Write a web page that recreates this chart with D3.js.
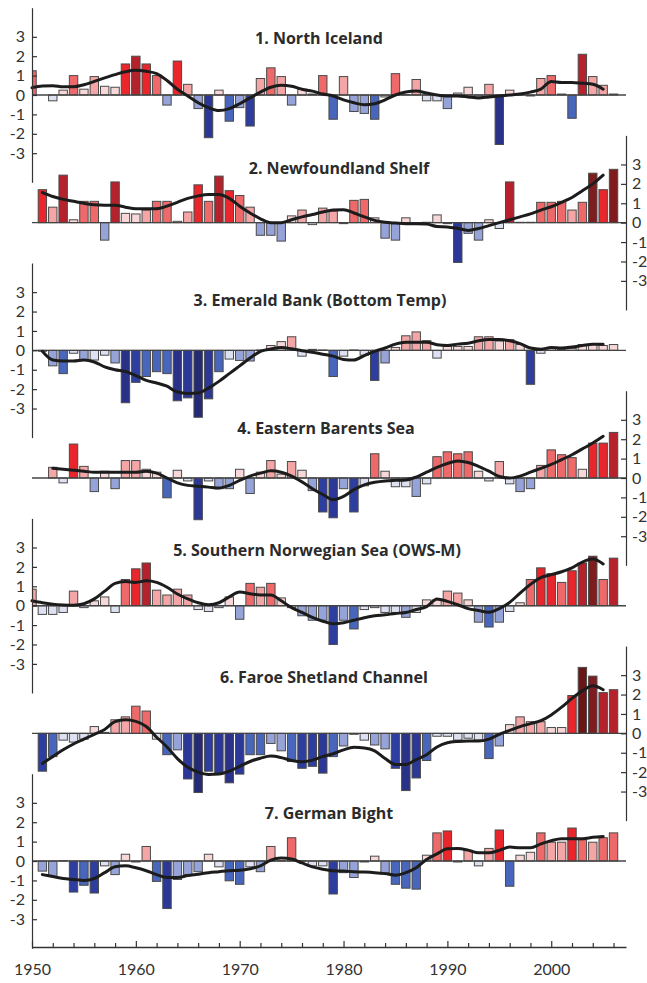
<!DOCTYPE html>
<html><head><meta charset="utf-8">
<script src="https://cdn.jsdelivr.net/npm/d3@7"></script>
<style>body{margin:0;background:#fff}svg{display:block}</style>
</head><body>
<svg id="c" width="647" height="983"></svg>
<script>
// ---------- DATA ----------
const years = d3.range(1950, 2007); // 1950..2006
const titles = ["1. North Iceland", "2. Newfoundland Shelf", "3. Emerald Bank (Bottom Temp)",
  "4. Eastern Barents Sea", "5. Southern Norwegian Sea (OWS-M)", "6. Faroe Shetland Channel", "7. German Bight"];
const yTicks = [-3, -2, -1, 0, 1, 2, 3];
const xTicks = [1950,1952,1954,1956,1958,1960,1962,1964,1966,1968,1970,1972,1974,1976,1978,1980,1982,1984,1986,1988,1990,1992,1994,1996,1998,2000,2002,2004,2006];
const xLabels = [1950, 1960, 1970, 1980, 1990, 2000];

const northIceland = [1.25,null,-0.3,0.25,1.0,0.3,0.95,0.45,0.4,1.6, 2.0,1.6,1.0,-0.52,1.75,0.55,-0.7,-2.2,0.25,-1.35, -0.65,-1.6,0.85,1.4,0.95,-0.52,0.3,0.05,1.0,-1.25, 0.95,-0.85,-0.95,-1.25,-0.1,1.1,0.02,0.8,-0.3,-0.3, -0.7,0.1,0.4,-0.1,0.55,-2.55,0.25,0.05,-0.05,0.85, 1.0,0.05,-1.2,2.1,0.95,0.5,0.05];
const northIcelandTrend = [0.38,0.47,0.48,0.42,0.42,0.53,0.7,0.88,1.05,1.2, 1.27,1.22,1.1,0.75,0.3,-0.05,-0.4,-0.65,-0.8,-0.7, -0.45,-0.15,0.15,0.4,0.5,0.45,0.3,0.2,0.05,-0.05, -0.25,-0.4,-0.5,-0.45,-0.25,0.0,0.15,0.2,0.1,0.0, -0.05,-0.05,-0.1,-0.15,-0.1,-0.05,0.0,0.05,0.15,0.3, 0.7,0.65,0.65,0.6,0.55,0.3,null];

const newfoundland = [null,1.7,0.8,2.45,0.15,1.1,1.1,-0.9,2.1,0.48, 0.45,0.65,1.1,1.1,0.07,0.55,1.95,1.1,2.4,1.65, 1.4,0.8,-0.65,-0.65,-0.95,0.35,0.65,-0.1,0.75,0.6, -0.05,1.15,1.2,0.25,-0.8,-0.9,0.25,-0.05,0.02,0.4, -0.05,-2.05,-0.55,-0.9,0.15,-0.3,2.1,0.02,0.02,1.05, 1.05,1.1,0.65,1.05,2.55,1.7,2.75];
const newfoundlandTrend = [null,1.55,1.35,1.2,1.1,1.0,0.92,0.9,0.9,0.8, 0.72,0.72,0.72,0.85,1.05,1.25,1.38,1.45,1.45,1.25, 0.85,0.5,0.2,0.0,0.0,0.15,0.3,0.42,0.55,0.65, 0.67,0.5,0.3,0.12,0.02,-0.02,-0.05,-0.05,-0.07,-0.2, -0.22,-0.3,-0.4,-0.3,-0.15,0.0,0.15,0.3,0.45,0.65, 0.82,1.05,1.3,1.65,2.0,2.45,null];

const emeraldBank = [null,-0.05,-0.8,-1.2,-0.15,-0.52,-0.5,-0.25,-0.65,-2.7, -1.65,-1.35,-1.1,-1.2,-2.6,-2.45,-3.45,-2.5,-1.1,-0.45, -0.52,-0.55,0.02,0.25,0.45,0.7,-0.3,0.05,0.02,-1.35, -0.3,0.02,-0.25,-1.55,-0.65,0.15,0.75,0.95,0.5,-0.4, 0.2,0.2,0.2,0.7,0.7,0.48,0.55,0.3,-1.75,-0.15, 0.15,0.05,0.1,0.3,0.3,0.25,0.3];
const emeraldBankTrend = [null,-0.05,-0.5,-0.55,-0.55,-0.5,-0.6,-0.85,-1.0,-1.1, -1.3,-1.55,-1.68,-1.85,-2.15,-2.22,-2.2,-1.95,-1.6,-1.2, -0.8,-0.4,-0.05,0.07,0.15,0.08,-0.02,-0.1,-0.2,-0.3, -0.47,-0.5,-0.27,-0.05,0.12,0.32,0.42,0.42,0.42,0.29, 0.25,0.32,0.37,0.49,0.56,0.56,0.49,0.35,0.12,0.06, 0.14,0.12,0.17,0.25,0.32,0.32,null];

const barentsSea = [null,null,0.55,-0.25,1.75,0.6,-0.7,0.35,-0.55,0.9, 0.9,0.45,0.3,-1.02,0.4,-0.15,-2.15,-0.15,-0.55,-0.55, 0.45,-0.8,0.3,0.9,0.2,0.85,0.4,-0.65,-1.75,-2.05, -0.55,-1.75,-0.4,1.25,0.35,-0.45,-0.45,-0.95,-0.3,1.1, 1.35,1.25,1.35,0.35,-0.15,0.85,-0.3,-0.7,-0.55,0.65, 1.45,1.2,1.05,0.45,1.8,1.8,2.35];
const barentsSeaTrend = [null,null,0.5,0.45,0.4,0.35,0.3,0.3,0.3,0.3, 0.3,0.35,0.25,0.0,-0.25,-0.38,-0.42,-0.47,-0.52,-0.38, -0.12,0.1,0.25,0.37,0.3,0.1,-0.2,-0.55,-0.85,-1.12, -0.95,-0.6,-0.35,-0.22,-0.15,-0.12,-0.1,0.05,0.3,0.55, 0.75,0.88,0.8,0.6,0.35,0.08,0.0,0.1,0.3,0.5, 0.7,0.95,1.2,1.5,1.8,2.15,null];

const norwegianSea = [0.85,-0.45,-0.45,-0.35,0.75,-0.1,0.25,0.45,-0.35,1.35, 1.9,2.2,0.8,0.55,0.85,0.55,-0.2,-0.3,-0.1,0.45, -0.7,1.15,0.95,1.15,0.4,-0.1,-0.52,-0.75,-0.75,-2.0, -0.75,-1.2,-0.2,-0.1,-0.35,-0.35,-0.6,-0.35,0.3,0.3, 0.75,0.65,0.3,-0.85,-1.1,-0.85,-0.3,0.15,1.35,1.95, 1.65,1.2,1.8,2.2,2.55,1.35,2.45];
const norwegianSeaTrend = [0.25,0.15,0.08,0.04,0.02,0.1,0.35,0.75,1.15,1.25, 1.2,1.28,1.2,0.95,0.6,0.35,0.15,0.05,0.15,0.45, 0.7,0.62,0.55,0.55,0.25,-0.1,-0.35,-0.6,-0.8,-0.93, -0.88,-0.75,-0.62,-0.52,-0.47,-0.4,-0.35,-0.2,-0.05,0.35, 0.22,0.05,-0.15,-0.25,-0.34,-0.15,0.17,0.65,1.1,1.45, 1.6,1.75,1.95,2.25,2.4,2.15,null];

const faroeShetland = [null,-1.95,-1.2,-0.35,-0.45,-0.3,0.35,0.05,0.7,0.85, 1.4,1.15,-0.3,-1.1,-0.85,-2.35,-3.05,-1.95,-2.05,-2.55, -2.1,-1.1,-1.1,-0.52,-0.9,-1.45,-1.8,-1.7,-2.05,-1.2, -0.65,-0.05,-0.35,-0.6,-0.8,-1.8,-2.95,-2.3,-1.4,-0.15, -0.15,-0.35,-0.25,-0.35,-1.3,-0.65,0.45,0.85,0.6,0.6, 0.3,0.3,1.95,3.4,2.95,2.1,2.25];
const faroeShetlandTrend = [null,-1.55,-1.2,-0.85,-0.55,-0.3,-0.05,0.2,0.6,0.7, 0.62,0.35,-0.2,-0.7,-1.3,-1.75,-2.0,-2.12,-2.1,-1.95, -1.7,-1.45,-1.28,-1.17,-1.25,-1.4,-1.47,-1.38,-1.2,-1.05, -0.85,-0.72,-0.75,-0.9,-1.3,-1.6,-1.6,-1.35,-1.1,-0.7, -0.48,-0.42,-0.4,-0.4,-0.3,-0.05,0.15,0.35,0.5,0.65, 0.95,1.35,1.8,2.2,2.45,2.25,null];

const germanBight = [null,-0.52,-0.8,0.02,-1.6,-1.25,-1.65,-0.25,-0.7,0.35, -0.05,0.75,-1.05,-2.45,-0.95,-0.7,-0.55,0.35,-0.3,-1.02, -1.2,-0.3,-0.55,0.75,0.02,1.2,0.02,-0.25,-0.25,-1.7, -0.6,-0.85,-0.05,0.25,-0.6,-1.2,-1.4,-1.45,0.3,1.45, 1.55,-0.05,0.55,-0.25,0.65,1.6,-1.3,0.3,0.45,1.45, 0.97,0.97,1.7,1.1,0.97,1.2,1.45];
const germanBightTrend = [null,-0.7,-0.8,-0.9,-0.95,-1.0,-0.9,-0.6,-0.3,-0.25, -0.35,-0.5,-0.7,-0.85,-0.85,-0.75,-0.68,-0.6,-0.55,-0.5, -0.48,-0.4,-0.25,0.05,0.15,0.1,-0.1,-0.3,-0.42,-0.5, -0.52,-0.55,-0.57,-0.6,-0.65,-0.73,-0.6,-0.35,0.08,0.37, 0.63,0.65,0.56,0.42,0.42,0.55,0.72,0.68,0.68,0.88, 1.05,1.15,1.15,1.15,1.22,1.27,null];

const barSeries = [northIceland, newfoundland, emeraldBank, barentsSea, norwegianSea, faroeShetland, germanBight];
const trendSeries = [northIcelandTrend, newfoundlandTrend, emeraldBankTrend, barentsSeaTrend, norwegianSeaTrend, faroeShetlandTrend, germanBightTrend];

// ---------- LAYOUT / STYLE ----------
const X0 = 32, X1 = 626, firstZero = 95, panelStep = 127.67, unit = 19.4, axisBottomY = 947;
const titleLayout = [[319, 2.95], [339, 2.8], [320, 2.6], [326, 2.6], [317, 2.85], [324, 2.9], [329, 2.45]];
const colorScale = d3.scaleThreshold()
  .domain([-3, -2.5, -2, -1.5, -1, -0.5, 0, 0.5, 1, 1.5, 2, 2.5, 3])
  .range(["#242a74", "#2a3288", "#2b3898", "#2e3ea0", "#4867bc", "#95a3d8", "#dde1f2",
          "#f7d7d7", "#f4a5a5", "#ee6a6a", "#e8262b", "#b6222b", "#7f1c20", "#6b1616"]);
const TITLE_FONT = "'Open Sans', Lato, sans-serif";
const TICK_FONT = "Lato, 'Open Sans', sans-serif";

const svg = d3.select("#c");
const x = d3.scaleLinear().domain([1950, 2007.2]).range([X0, X1]);
const bw = 8.4;

svg.append("defs").append("clipPath").attr("id", "clip")
  .append("rect").attr("x", X0).attr("y", 0).attr("width", X1 - X0).attr("height", 983);

barSeries.forEach((vals, i) => {
  const zero = firstZero + i * panelStep;
  const y = d3.scaleLinear().domain([-4.5, 4.5]).range([zero + 4.5 * unit, zero - 4.5 * unit]);
  const g = svg.append("g");
  const data = years.map((yr, k) => ({ yr, v: vals[k], t: trendSeries[i][k] }));

  // title
  g.append("text")
    .attr("x", titleLayout[i][0]).attr("y", y(titleLayout[i][1]))
    .attr("text-anchor", "middle").attr("dominant-baseline", "central")
    .style("font-family", TITLE_FONT).style("font-weight", 700).style("font-size", "16px")
    .style("fill", "#2b2b2b").text(titles[i]);

  // bars
  g.append("g").attr("clip-path", "url(#clip)")
    .selectAll("rect").data(data.filter(d => d.v !== null)).join("rect")
    .attr("x", d => x(d.yr) - bw / 2).attr("width", bw)
    .attr("y", d => Math.min(y(d.v), y(0)))
    .attr("height", d => Math.abs(y(d.v) - y(0)))
    .attr("fill", d => colorScale(d.v))
    .attr("stroke", "#4a4a4a").attr("stroke-width", 1);

  // zero line
  g.append("line").attr("x1", X0).attr("x2", X1).attr("y1", y(0)).attr("y2", y(0))
    .attr("stroke", "#444").attr("stroke-width", 1.4);

  // trend line
  const line = d3.line().defined(d => d.t !== null)
    .x(d => x(d.yr)).y(d => y(d.t)).curve(d3.curveMonotoneX);
  g.append("path").datum(data).attr("d", line)
    .attr("fill", "none").attr("stroke", "#1c1c1c").attr("stroke-width", 3)
    .attr("stroke-linejoin", "round").attr("stroke-linecap", "round");

  // y axis, alternating sides
  const left = i % 2 === 0;
  const axis = (left ? d3.axisLeft(y) : d3.axisRight(y))
    .tickValues(yTicks).tickSize(-5).tickSizeOuter(0).tickPadding(left ? 7 : 6)
    .tickFormat(d => String(d));
  const ag = g.append("g").attr("transform", `translate(${left ? X0 : X1},0)`).call(axis);
  ag.select(".domain").attr("stroke", "#333").attr("stroke-width", 1.2);
  ag.selectAll(".tick line").attr("stroke", "#333").attr("stroke-width", 1.2);
  ag.selectAll(".tick text").style("font-family", TICK_FONT).style("font-size", "16px").style("fill", "#333");
});

// bottom x axis
const xa = d3.axisBottom(x).tickValues(xTicks).tickSize(-4).tickSizeOuter(0).tickPadding(17)
  .tickFormat(d => xLabels.includes(d) ? String(d) : "");
const xg = svg.append("g").attr("transform", `translate(0,${axisBottomY})`).call(xa);
xg.select(".domain").attr("stroke", "#333").attr("stroke-width", 1.4);
xg.selectAll(".tick line").attr("stroke", "#333").attr("stroke-width", 1.2)
  .attr("y2", d => d % 10 === 0 ? -6 : -4);
xg.selectAll(".tick text").style("font-family", TICK_FONT).style("font-size", "16px").style("fill", "#333");
</script>
</body></html>
